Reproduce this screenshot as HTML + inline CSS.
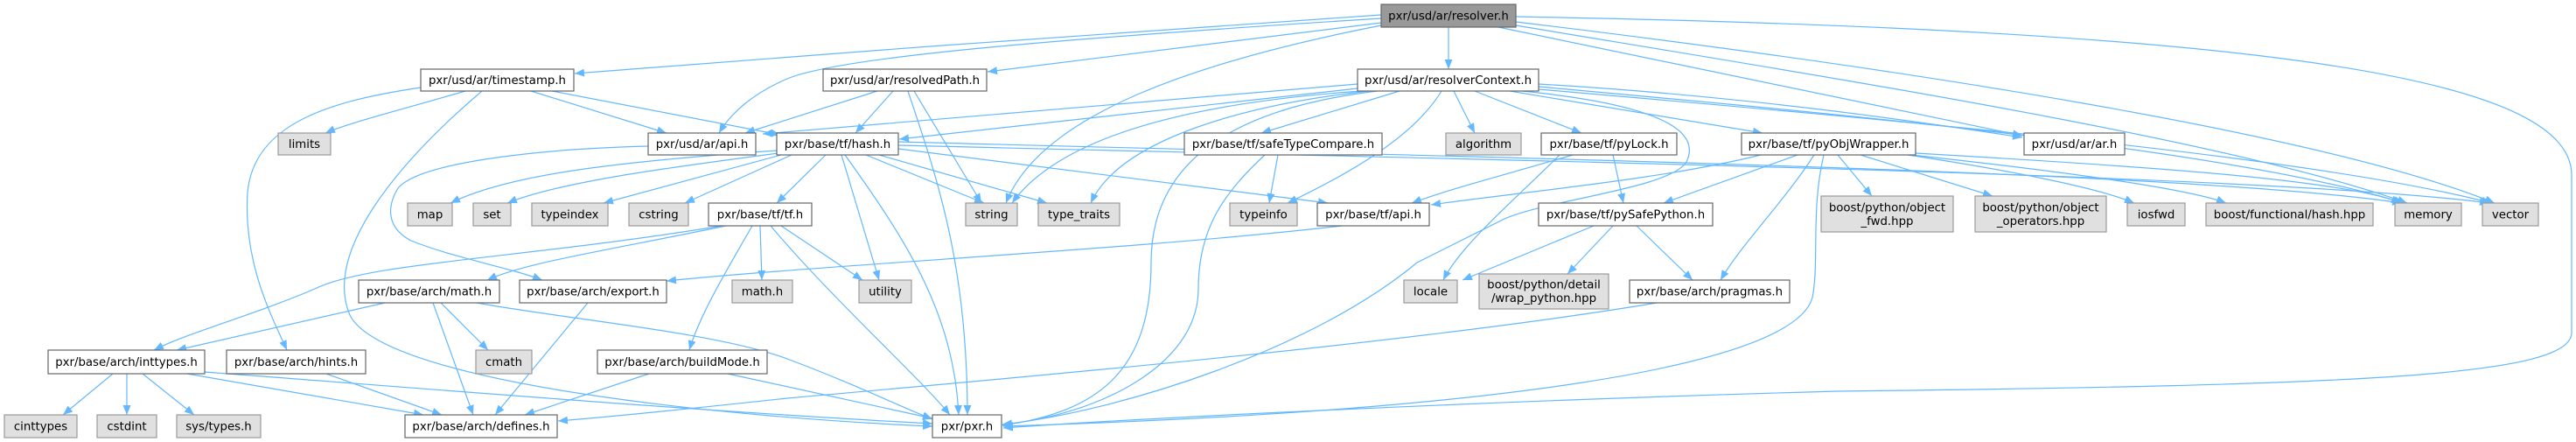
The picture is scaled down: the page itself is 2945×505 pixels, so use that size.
<!DOCTYPE html>
<html><head><meta charset="utf-8">
<style>
html,body{margin:0;padding:0;background:#fff;}
svg{display:block;}
.e{fill:none;stroke:#63b8ff;stroke-width:1.2;marker-end:url(#a);}
.w{fill:#fff;stroke:#666;stroke-width:1.2;}
.g{fill:#e0e0e0;stroke:#999;stroke-width:1.2;}
.r{fill:#999;stroke:#666;stroke-width:1.2;}
text{font-family:"DejaVu Sans","Liberation Sans",sans-serif;font-size:13.3px;fill:#000;text-anchor:middle;}
</style></head>
<body>
<svg width="2945" height="505" viewBox="0 0 2945 505" xmlns="http://www.w3.org/2000/svg">
<defs>
<marker id="a" viewBox="0 0 11 9" refX="11" refY="4.5" markerWidth="11" markerHeight="9" markerUnits="userSpaceOnUse" orient="auto">
<path d="M0,0 L11,4.5 L0,9 Z" fill="#63b8ff"/>
</marker>
</defs>
<g>
<!-- resolver.h -->
<path class="e" d="M1579,17 C1300,36 950,60 657,84"/>
<path class="e" d="M1579,21 C1200,45 960,65 900,90 C860,107 835,130 822,152"/>
<path class="e" d="M1579,26 L1129,82"/>
<path class="e" d="M1656,31 L1656,79"/>
<path class="e" d="M1579,29 C1370,70 1190,130 1150,232"/>
<path class="e" d="M1713,31 L2312,155"/>
<path class="e" d="M1733,29 C2100,90 2550,160 2752,232"/>
<path class="e" d="M1733,25 C2150,75 2650,150 2852,232"/>
<path class="e" d="M1733,19 C2600,35 2940,90 2940,200 L2940,380 C2940,430 2700,440 2100,447 C1700,458 1300,478 1147,489"/>
<!-- timestamp.h -->
<path class="e" d="M481,100 C380,115 290,140 283,220 C278,300 310,360 328,400"/>
<path class="e" d="M532,104 C460,125 400,140 372,152"/>
<path class="e" d="M551,104 C450,190 370,290 400,360 C440,440 850,478 1066,487"/>
<path class="e" d="M607,104 L762,152"/>
<path class="e" d="M631,104 L892,154"/>
<!-- resolvedPath.h -->
<path class="e" d="M1003,104 L852,152"/>
<path class="e" d="M1021,104 L978,152"/>
<path class="e" d="M1038,104 C1070,200 1106,300 1106,474"/>
<path class="e" d="M1045,104 L1122,232"/>
<!-- resolverContext.h -->
<path class="e" d="M1552,96 L872,153"/>
<path class="e" d="M1552,101 L1028,159"/>
<path class="e" d="M1556,104 C1400,115 1220,145 1157,232"/>
<path class="e" d="M1565,104 C1420,120 1280,160 1247,232"/>
<path class="e" d="M1575,104 C1400,125 1316,190 1316,300 C1316,420 1260,470 1146,486"/>
<path class="e" d="M1648,104 C1620,150 1560,190 1472,232"/>
<path class="e" d="M1600,104 L1442,152"/>
<path class="e" d="M1662,104 L1686,152"/>
<path class="e" d="M1686,104 L1808,152"/>
<path class="e" d="M1726,104 L2015,152"/>
<path class="e" d="M1759,96 C2000,110 2200,140 2312,157"/>
<path class="e" d="M1759,99 C2100,130 2550,170 2748,232"/>
<path class="e" d="M1759,102 C2200,140 2650,180 2848,232"/>
<path class="e" d="M1740,104 C1900,120 1945,150 1928,185 C1910,215 1770,228 1720,250 C1670,275 1640,290 1620,300 C1500,400 1280,470 1146,485"/>
<!-- pyLock.h -->
<path class="e" d="M1783,177 C1730,230 1670,280 1650,320"/>
<path class="e" d="M1798,177 C1720,200 1660,215 1614,232"/>
<path class="e" d="M1844,177 L1856,232"/>
<!-- pyObjWrapper.h -->
<path class="e" d="M2013,177 C1900,205 1750,218 1636,234"/>
<path class="e" d="M2055,177 L1902,232"/>
<path class="e" d="M2074,177 C2040,230 1990,280 1967,320"/>
<path class="e" d="M2085,177 C2070,240 2080,300 2072,340 C2050,420 1700,470 1147,487"/>
<path class="e" d="M2101,177 L2140,224"/>
<path class="e" d="M2127,177 L2278,224"/>
<path class="e" d="M2181,177 C2300,195 2400,215 2440,232"/>
<path class="e" d="M2185,177 C2350,195 2500,215 2545,232"/>
<path class="e" d="M2190,175 C2450,190 2680,205 2745,232"/>
<!-- hash.h -->
<path class="e" d="M888,172 C700,185 580,200 515,232"/>
<path class="e" d="M890,175 C760,192 640,208 580,232"/>
<path class="e" d="M893,177 L690,232"/>
<path class="e" d="M905,177 L783,232"/>
<path class="e" d="M944,177 L888,232"/>
<path class="e" d="M962,177 L1005,320"/>
<path class="e" d="M966,177 C1040,280 1090,360 1096,474"/>
<path class="e" d="M990,177 L1125,232"/>
<path class="e" d="M1005,177 L1197,232"/>
<path class="e" d="M1027,170 L1518,232"/>
<path class="e" d="M1027,162 C1700,180 2500,195 2746,232"/>
<path class="e" d="M1027,166 C1800,185 2600,200 2846,232"/>
<!-- api / export -->
<path class="e" d="M741,167 C620,170 480,185 455,215 C440,240 445,262 470,275 C520,295 580,305 620,320"/>
<path class="e" d="M1534,258 C1300,285 950,302 762,321"/>
<!-- safeTypeCompare -->
<path class="e" d="M1461,177 L1451,232"/>
<path class="e" d="M1446,177 C1400,220 1370,260 1370,330 C1370,420 1250,475 1146,485"/>
<!-- tf.h -->
<path class="e" d="M830,258 C700,285 600,300 557,320"/>
<path class="e" d="M825,258 C600,295 420,300 360,330 C290,360 215,380 176,400"/>
<path class="e" d="M869,258 L871,320"/>
<path class="e" d="M893,258 L986,320"/>
<path class="e" d="M860,258 C830,310 800,360 788,400"/>
<path class="e" d="M881,258 C950,340 1050,430 1086,474"/>
<!-- arch/math.h -->
<path class="e" d="M440,346 L202,400"/>
<path class="e" d="M495,346 L541,474"/>
<path class="e" d="M504,346 L558,400"/>
<path class="e" d="M545,346 C650,365 820,380 900,410 C980,440 1030,465 1066,479"/>
<!-- export -->
<path class="e" d="M672,346 L566,474"/>
<!-- inttypes -->
<path class="e" d="M129,427 L72,474"/>
<path class="e" d="M145,427 L145,474"/>
<path class="e" d="M163,427 L222,474"/>
<path class="e" d="M214,427 L484,474"/>
<path class="e" d="M234,425 C500,445 800,470 1066,484"/>
<!-- hints / buildMode / pragmas -->
<path class="e" d="M373,427 L505,474"/>
<path class="e" d="M742,427 L600,474"/>
<path class="e" d="M832,427 L1066,478"/>
<path class="e" d="M1894,346 C1600,395 1100,437 900,455 C780,468 700,476 638,481"/>
<!-- pySafePython -->
<path class="e" d="M1822,258 L1672,320"/>
<path class="e" d="M1844,258 L1792,313"/>
<path class="e" d="M1871,258 L1935,320"/>
</g>

<g>
<rect class="r" x="1579" y="5" width="154" height="26"/><text x="1656" y="22.5">pxr/usd/ar/resolver.h</text>

<rect class="w" x="481" y="79" width="175" height="25"/><text x="568.5" y="96">pxr/usd/ar/timestamp.h</text>
<rect class="w" x="941" y="79" width="187" height="25"/><text x="1034.5" y="96">pxr/usd/ar/resolvedPath.h</text>
<rect class="w" x="1552" y="79" width="207" height="25"/><text x="1655.5" y="96">pxr/usd/ar/resolverContext.h</text>

<rect class="g" x="318" y="152" width="60" height="25"/><text x="348" y="169">limits</text>
<rect class="w" x="741" y="152" width="123" height="25"/><text x="802.5" y="169">pxr/usd/ar/api.h</text>
<rect class="w" x="888" y="152" width="139" height="25"/><text x="957.5" y="169">pxr/base/tf/hash.h</text>
<rect class="w" x="1354" y="152" width="226" height="25"/><text x="1467" y="169">pxr/base/tf/safeTypeCompare.h</text>
<rect class="g" x="1653" y="152" width="86" height="25"/><text x="1696" y="169">algorithm</text>
<rect class="w" x="1762" y="152" width="155" height="25"/><text x="1839.5" y="169">pxr/base/tf/pyLock.h</text>
<rect class="w" x="1991" y="152" width="199" height="25"/><text x="2090.5" y="169">pxr/base/tf/pyObjWrapper.h</text>
<rect class="w" x="2314" y="152" width="115" height="25"/><text x="2371.5" y="169">pxr/usd/ar/ar.h</text>

<rect class="g" x="466" y="232" width="51" height="26"/><text x="491.5" y="249.5">map</text>
<rect class="g" x="541" y="232" width="43" height="26"/><text x="562.5" y="249.5">set</text>
<rect class="g" x="608" y="232" width="87" height="26"/><text x="651.5" y="249.5">typeindex</text>
<rect class="g" x="719" y="232" width="68" height="26"/><text x="753" y="249.5">cstring</text>
<rect class="w" x="810" y="232" width="118" height="26"/><text x="869" y="249.5">pxr/base/tf/tf.h</text>
<rect class="g" x="1104" y="232" width="59" height="26"/><text x="1133.5" y="249.5">string</text>
<rect class="g" x="1187" y="232" width="93" height="26"/><text x="1233.5" y="249.5">type_traits</text>
<rect class="g" x="1406" y="232" width="77" height="26"/><text x="1444.5" y="249.5">typeinfo</text>
<rect class="w" x="1506" y="232" width="128" height="26"/><text x="1570" y="249.5">pxr/base/tf/api.h</text>
<rect class="w" x="1759" y="232" width="199" height="26"/><text x="1858.5" y="249.5">pxr/base/tf/pySafePython.h</text>
<rect class="g" x="2082" y="224" width="151" height="41"/><text x="2157.5" y="241.5">boost/python/object</text><text x="2157.5" y="257">_fwd.hpp</text>
<rect class="g" x="2258" y="224" width="150" height="41"/><text x="2333" y="241.5">boost/python/object</text><text x="2333" y="257">_operators.hpp</text>
<rect class="g" x="2432" y="232" width="66" height="26"/><text x="2465" y="249.5">iosfwd</text>
<rect class="g" x="2522" y="232" width="191" height="26"/><text x="2617.5" y="249.5">boost/functional/hash.hpp</text>
<rect class="g" x="2738" y="232" width="76" height="26"/><text x="2776" y="249.5">memory</text>
<rect class="g" x="2838" y="232" width="64" height="26"/><text x="2870" y="249.5">vector</text>

<rect class="w" x="410" y="320" width="161" height="26"/><text x="490.5" y="337.5">pxr/base/arch/math.h</text>
<rect class="w" x="594" y="320" width="168" height="26"/><text x="678" y="337.5">pxr/base/arch/export.h</text>
<rect class="g" x="837" y="320" width="69" height="26"/><text x="871.5" y="337.5">math.h</text>
<rect class="g" x="982" y="320" width="60" height="26"/><text x="1012" y="337.5">utility</text>
<rect class="g" x="1605" y="320" width="61" height="26"/><text x="1635.5" y="337.5">locale</text>
<rect class="g" x="1691" y="313" width="148" height="40"/><text x="1765" y="329.5">boost/python/detail</text><text x="1765" y="345">/wrap_python.hpp</text>
<rect class="w" x="1863" y="320" width="183" height="26"/><text x="1954.5" y="337.5">pxr/base/arch/pragmas.h</text>

<rect class="w" x="55" y="400" width="179" height="27"/><text x="144.5" y="418">pxr/base/arch/inttypes.h</text>
<rect class="w" x="259" y="400" width="159" height="27"/><text x="338.5" y="418">pxr/base/arch/hints.h</text>
<rect class="g" x="544" y="400" width="64" height="27"/><text x="576" y="418">cmath</text>
<rect class="w" x="683" y="400" width="194" height="27"/><text x="780" y="418">pxr/base/arch/buildMode.h</text>

<rect class="g" x="5" y="474" width="83" height="26"/><text x="46.5" y="491.5">cinttypes</text>
<rect class="g" x="111" y="474" width="68" height="26"/><text x="145" y="491.5">cstdint</text>
<rect class="g" x="202" y="474" width="96" height="26"/><text x="250" y="491.5">sys/types.h</text>
<rect class="w" x="463" y="474" width="174" height="26"/><text x="550" y="491.5">pxr/base/arch/defines.h</text>
<rect class="w" x="1066" y="474" width="79" height="26"/><text x="1105.5" y="491.5">pxr/pxr.h</text>
</g>
</svg>
</body></html>
